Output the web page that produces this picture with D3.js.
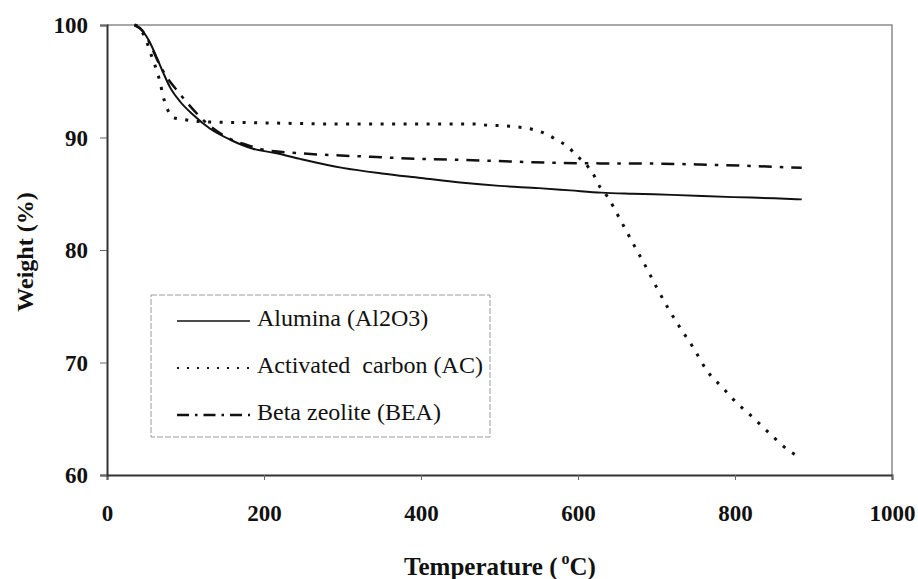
<!DOCTYPE html>
<html>
<head>
<meta charset="utf-8">
<script src="https://cdn.jsdelivr.net/npm/d3@7"></script>
<style>
  html, body { margin: 0; padding: 0; background: #fff; }
  svg { display: block; }
  text { font-family: "Liberation Serif", "Times New Roman", serif; fill: #111; }
</style>
</head>
<body>
<svg id="chart" width="918" height="579"></svg>
<script>
// TGA curves: temperature (°C) vs remaining weight (%)
const aluminaT = [35, 45, 55, 64, 72, 80, 93, 110, 131, 157, 186, 216, 246, 300, 350, 400, 450, 500, 550, 590, 630, 670, 720, 798, 850, 885];
const aluminaW = [100, 99.5, 98.4, 97.0, 95.7, 94.5, 93.2, 92.0, 90.8, 89.8, 89.0, 88.6, 88.1, 87.3, 86.8, 86.4, 86.0, 85.7, 85.5, 85.3, 85.1, 85.0, 84.9, 84.7, 84.6, 84.5];

const carbonT = [35, 42, 50, 57, 64, 68, 71, 76, 83, 97, 122, 200, 300, 400, 466, 484, 513, 543, 560, 575, 587, 598, 609, 619, 628, 638, 653, 670, 685, 700, 715, 730, 747, 764, 785, 798, 823, 847, 870, 885];
const carbonW = [100, 99.7, 98.6, 97.2, 95.8, 94.8, 93.8, 92.7, 91.8, 91.6, 91.4, 91.3, 91.2, 91.2, 91.2, 91.1, 91.0, 90.7, 90.3, 89.7, 89.2, 88.4, 87.7, 86.8, 85.6, 84.7, 82.8, 80.6, 78.7, 76.7, 74.8, 73.1, 71.3, 69.3, 67.7, 66.7, 65.1, 63.5, 62.1, 61.5];

const zeoliteT = [35, 45, 55, 64, 75, 89, 102, 125, 153, 180, 200, 246, 331, 400, 458, 543, 628, 670, 755, 849, 885];
const zeoliteW = [100, 99.5, 98.3, 96.9, 95.5, 94.2, 93.1, 91.4, 90.0, 89.3, 88.9, 88.6, 88.3, 88.1, 88.0, 87.8, 87.7, 87.7, 87.6, 87.4, 87.3];

const seriesNames = ["Alumina (Al2O3)", "Activated  carbon (AC)", "Beta zeolite (BEA)"];
const xTicks = [0, 200, 400, 600, 800, 1000];
const yTicks = [60, 70, 80, 90, 100];

const svg = d3.select("#chart");
const plot = { left: 107, right: 892, top: 25, bottom: 475 };

const x = d3.scaleLinear().domain([0, 1000]).range([plot.left, plot.right]);
const y = d3.scaleLinear().domain([60, 100]).range([plot.bottom, plot.top]);

// light frame on the top and right sides
svg.append("path")
  .attr("d", `M${plot.left},${plot.top}H${plot.right}V${plot.bottom}`)
  .attr("fill", "none").attr("stroke", "#8a8a8a").attr("stroke-width", 1.5);

// axes
const xAxis = svg.append("g")
  .attr("transform", `translate(0,${plot.bottom})`)
  .call(d3.axisBottom(x).tickValues(xTicks).tickSize(5).tickPadding(25).tickFormat(d3.format("d")));
const yAxis = svg.append("g")
  .attr("transform", `translate(${plot.left},0)`)
  .call(d3.axisLeft(y).tickValues(yTicks).tickSize(7).tickPadding(12).tickFormat(d3.format("d")));

[xAxis, yAxis].forEach(g => {
  g.select(".domain").attr("stroke", "#333").attr("stroke-width", 2);
  g.selectAll(".tick line").attr("stroke", "#666").attr("stroke-width", 1);
  g.selectAll(".tick text")
    .attr("font-family", "Liberation Serif, serif")
    .attr("font-size", 23).attr("font-weight", "bold").attr("fill", "#111");
});
yAxis.selectAll(".tick text").attr("dy", "0.34em");

// series lines
const styles = [
  { dash: null, width: 2 },
  { dash: "3,8.5", width: 3 },
  { dash: "13,8,3.5,8", width: 2.5 }
];
const data = [
  d3.zip(aluminaT, aluminaW),
  d3.zip(carbonT, carbonW),
  d3.zip(zeoliteT, zeoliteW)
];
const line = d3.line().x(d => x(d[0])).y(d => y(d[1])).curve(d3.curveMonotoneX);

data.forEach((pts, i) => {
  svg.append("path")
    .datum(pts)
    .attr("d", line)
    .attr("fill", "none")
    .attr("stroke", "#111")
    .attr("stroke-width", styles[i].width)
    .attr("stroke-dasharray", styles[i].dash);
});

// legend
const legend = svg.append("g");
legend.append("rect")
  .attr("x", 151).attr("y", 295).attr("width", 339).attr("height", 142)
  .attr("fill", "#fff").attr("stroke", "#9a9a9a").attr("stroke-width", 1)
  .attr("stroke-dasharray", "6,2");
const legendStyles = [
  { dash: null, width: 1.6 },
  { dash: "2,8", width: 2 },
  { dash: "12,6,2.5,6", width: 2.5 }
];
const rowBase = [326, 373, 420];
seriesNames.forEach((name, i) => {
  legend.append("line")
    .attr("x1", 177).attr("x2", 250)
    .attr("y1", rowBase[i] - 5).attr("y2", rowBase[i] - 5)
    .attr("stroke", "#111")
    .attr("stroke-width", legendStyles[i].width)
    .attr("stroke-dasharray", legendStyles[i].dash);
  legend.append("text")
    .attr("x", 257).attr("y", rowBase[i])
    .attr("font-size", 24)
    .style("white-space", "pre")
    .attr("xml:space", "preserve")
    .text(name);
});

// axis titles
svg.append("text")
  .attr("transform", "translate(33,252) rotate(-90)")
  .attr("text-anchor", "middle")
  .attr("font-size", 24).attr("font-weight", "bold")
  .text("Weight (%)");

const xt = svg.append("text")
  .attr("x", 500).attr("y", 575)
  .attr("text-anchor", "middle")
  .attr("font-size", 25).attr("font-weight", "bold");
xt.append("tspan").text("Temperature (");
xt.append("tspan").attr("font-size", 16).attr("dx", 4).attr("dy", -11).text("o");
xt.append("tspan").attr("dy", 11).text("C)");
</script>
</body>
</html>
